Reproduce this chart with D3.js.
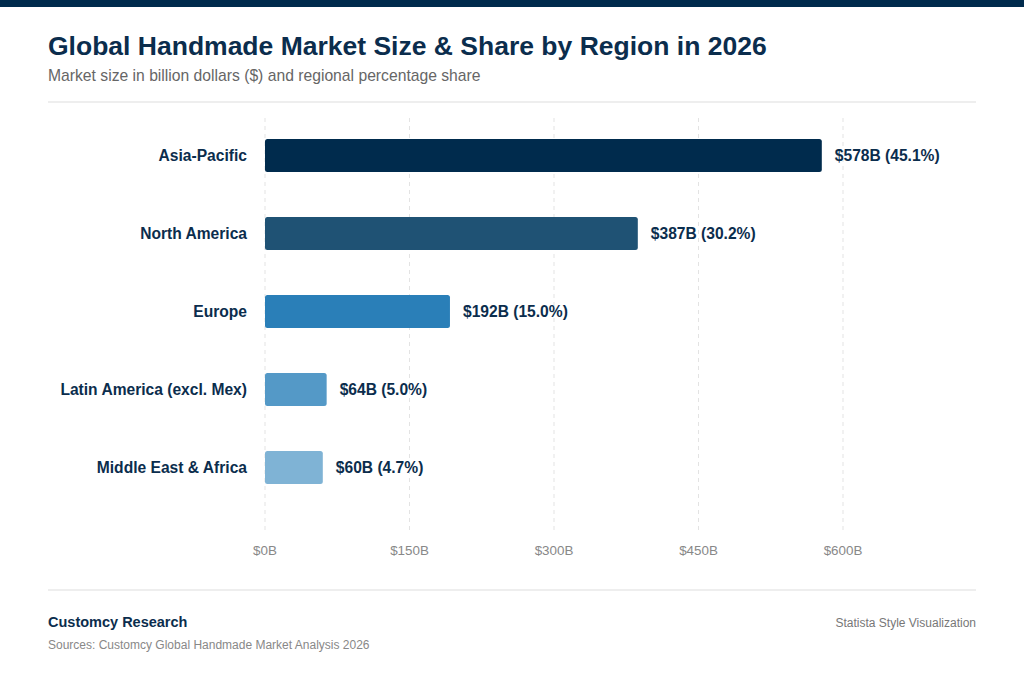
<!DOCTYPE html>
<html>
<head>
<meta charset="utf-8">
<script src="https://cdn.jsdelivr.net/npm/d3@7"></script>
<style>
  body { margin: 0; background: #fff; }
  svg { display: block; font-family: "Liberation Sans", Arial, sans-serif; }
</style>
</head>
<body>
<svg width="1024" height="675"></svg>
<script>
// data
const regions = ['Asia-Pacific', 'North America', 'Europe', 'Latin America (excl. Mex)', 'Middle East & Africa'];
const sizes = [578, 387, 192, 64, 60];
const shares = [45.1, 30.2, 15.0, 5.0, 4.7];
const colors = ['#002b4d', '#1f5274', '#2a7fb8', '#5499c7', '#7fb3d5'];
const ticks = [0, 150, 300, 450, 600];

const svg = d3.select('svg');
const w = +svg.attr('width');

// top strip
svg.append('rect').attr('x', 0).attr('y', 0).attr('width', w).attr('height', 7).attr('fill', '#002b4d');

// header
svg.append('text').attr('x', 48).attr('y', 55)
  .attr('font-size', 26.5).attr('font-weight', 700).attr('fill', '#0b2d4d')
  .text('Global Handmade Market Size & Share by Region in 2026');
svg.append('text').attr('x', 48).attr('y', 81)
  .attr('font-size', 15.7).attr('fill', '#666')
  .text('Market size in billion dollars ($) and regional percentage share');
svg.append('line').attr('x1', 48).attr('x2', 976).attr('y1', 102).attr('y2', 102)
  .attr('stroke', '#ddd').attr('stroke-width', 1.2);

// scales
const x = d3.scaleLinear().domain([0, 600]).range([265, 843]);
const y = d3.scaleBand().domain(regions).range([116.5, 506.5]).paddingInner(0.577).paddingOuter(0.2885);

// grid
const g = svg.append('g');
g.selectAll('.grid').data(ticks).enter().append('line')
  .attr('x1', d => x(d)).attr('x2', d => x(d))
  .attr('y1', 118).attr('y2', 530)
  .attr('stroke', '#e3e3e3').attr('stroke-dasharray', '4,4');

// x axis labels
g.selectAll('.tick').data(ticks).enter().append('text')
  .attr('x', d => x(d)).attr('y', 555)
  .attr('text-anchor', 'middle').attr('font-size', 13.4).attr('fill', '#888')
  .text(d => '$' + d + 'B');

// bars
g.selectAll('.bar').data(regions).enter().append('rect')
  .attr('x', x(0)).attr('y', d => y(d))
  .attr('width', (d, i) => x(sizes[i]) - x(0))
  .attr('height', y.bandwidth())
  .attr('rx', 2.5)
  .attr('fill', (d, i) => colors[i]);

// category labels
g.selectAll('.cat').data(regions).enter().append('text')
  .attr('x', 247).attr('y', d => y(d) + y.bandwidth() / 2)
  .attr('dy', '0.35em').attr('text-anchor', 'end')
  .attr('font-size', 15.6).attr('font-weight', 700).attr('fill', '#0b2d4d')
  .text(d => d);

// value labels
g.selectAll('.val').data(regions).enter().append('text')
  .attr('x', (d, i) => x(sizes[i]) + 13).attr('y', d => y(d) + y.bandwidth() / 2)
  .attr('dy', '0.35em')
  .attr('font-size', 15.6).attr('font-weight', 700).attr('fill', '#0b2d4d')
  .text((d, i) => '$' + sizes[i] + 'B (' + shares[i].toFixed(1) + '%)');

// footer
svg.append('line').attr('x1', 48).attr('x2', 976).attr('y1', 590).attr('y2', 590)
  .attr('stroke', '#ddd').attr('stroke-width', 1.2);
svg.append('text').attr('x', 48).attr('y', 627)
  .attr('font-size', 14.5).attr('font-weight', 700).attr('fill', '#0b2d4d')
  .text('Customcy Research');
svg.append('text').attr('x', 48).attr('y', 649)
  .attr('font-size', 12).attr('fill', '#888')
  .text('Sources: Customcy Global Handmade Market Analysis 2026');
svg.append('text').attr('x', 976).attr('y', 627).attr('text-anchor', 'end')
  .attr('font-size', 12).attr('fill', '#777')
  .text('Statista Style Visualization');
</script>
</body>
</html>
